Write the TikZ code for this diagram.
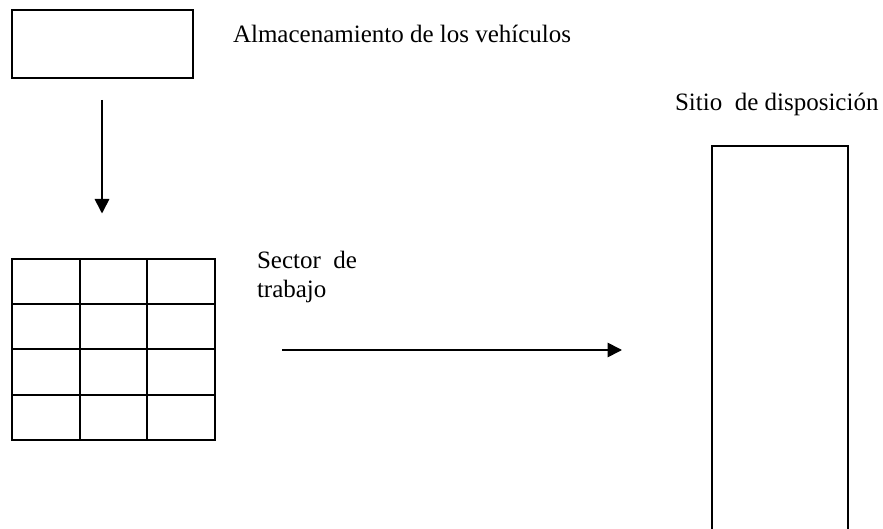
\documentclass[tikz,border=0pt]{standalone}
\usepackage{fontspec}
\setmainfont{Liberation Serif}
\usetikzlibrary{arrows.meta}
\tikzset{
  x=1pt,y=-1pt,
  box/.style={draw=black,line width=2pt,fill=none,inner sep=0pt,outer sep=0pt},
  flow/.style={draw=black,line width=1.7pt,-{Triangle[length=14.5pt,width=14.5pt]}},
  label/.style={inner sep=0pt,outer sep=0pt,anchor=base west,font=\fontsize{25}{30}\selectfont,align=left}
}
\begin{document}
\begin{tikzpicture}
\useasboundingbox (0,0) rectangle (883,529);
\node[box,minimum width=181pt,minimum height=68pt] (store) at (102,44.5) {};
\node[label] (storelabel) at (233,42.5) {Almacenamiento de los vehículos};
\node[label] (sitelabel) at (675,111) {Sitio\ \ de disposición};
\node[label] (sectorlabel) at (257,269) {Sector\ \ de};
\node[label] (sectorlabel2) at (257,298) {trabajo};
\foreach \c/\xa/\w in {1/45.75/67.5,2/113.25/67.5,3/181/67.5}{
  \foreach \r/\ya/\h in {1/281.5/45,2/326.5/45,3/372/46,4/417.5/45}{
    \node[box,minimum width=\w pt,minimum height=\h pt] (cell\c\r) at (\xa,\ya) {};
  }
}
\coordinate (a1s) at (102,100);
\coordinate (a1e) at (102,213.5);
\coordinate (a2s) at (282,350);
\coordinate (a2e) at (622,350);
\draw[flow] (a1s) -- (a1e);
\draw[flow] (a2s) -- (a2e);
\coordinate (sa) at (712,529);
\coordinate (sb) at (712,146);
\coordinate (sc) at (847.5,146);
\coordinate (sd) at (847.5,529);
\draw[black,line width=2pt] (sa) -- (sb) -- (sc) -- (sd);
\end{tikzpicture}
\end{document}
